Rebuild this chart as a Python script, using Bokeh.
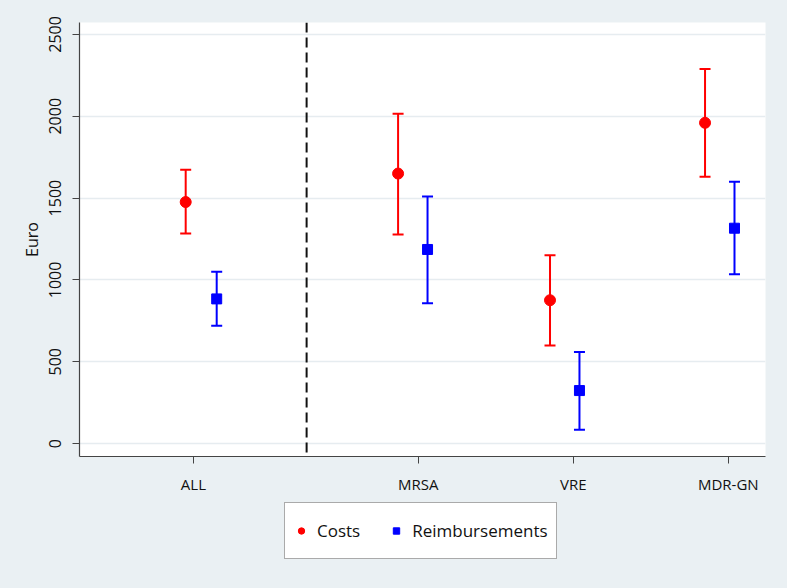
from bokeh.plotting import figure
from bokeh.models import ColumnDataSource, Whisker, TeeHead, Span, FixedTicker, Legend, LegendItem, Range1d
from bokeh.layouts import column
from bokeh.embed import file_html
from bokeh.resources import INLINE

# ---- data ----
groups = ["ALL", "MRSA", "VRE", "MDR-GN"]
group_pos = [1.0, 2.45, 3.45, 4.45]
cost_offset = [-0.05, -0.13, -0.15, -0.15]
reimb_offset = [0.15, 0.06, 0.04, 0.04]

costs = [1476, 1650, 876, 1960]
costs_lo = [1283, 1277, 600, 1630]
costs_hi = [1673, 2015, 1150, 2289]

reimb = [884, 1186, 324, 1316]
reimb_lo = [720, 858, 85, 1034]
reimb_hi = [1050, 1510, 560, 1600]

y_ticks = [0, 500, 1000, 1500, 2000, 2500]
divider_pos = 1.73

RED = "#ff0000"
BLUE = "#0000ff"
BG = "#eaf0f3"
FONT = "Open Sans"

src_c = ColumnDataSource(dict(x=[p + o for p, o in zip(group_pos, cost_offset)],
                              y=costs, lo=costs_lo, hi=costs_hi))
src_r = ColumnDataSource(dict(x=[p + o for p, o in zip(group_pos, reimb_offset)],
                              y=reimb, lo=reimb_lo, hi=reimb_hi))

p = figure(width=787, height=496, output_backend="svg", toolbar_location=None,
           x_range=Range1d(0.265, 4.69), y_range=Range1d(-79, 2573))
p.min_border_left = 79
p.min_border_right = 22
p.min_border_top = 22
p.min_border_bottom = 38
p.background_fill_color = "white"
p.border_fill_color = BG
p.outline_line_color = None

p.xgrid.visible = False
p.ygrid.grid_line_color = "#e6ecf0"
p.ygrid.grid_line_width = 1.5
p.yaxis.ticker = FixedTicker(ticks=y_ticks)
p.xaxis.ticker = FixedTicker(ticks=group_pos)
p.xaxis.major_label_overrides = {gp: g for gp, g in zip(group_pos, groups)}

for ax in (p.xaxis[0], p.yaxis[0]):
    ax.axis_line_color = "#444444"
    ax.axis_line_width = 1.2
    ax.major_tick_line_color = "#444444"
    ax.major_tick_out = 7
    ax.major_tick_in = 0
    ax.minor_tick_line_color = None
    ax.major_label_text_font = FONT
    ax.major_label_text_color = "#111111"

p.xaxis.major_label_text_font_size = "15px"
p.yaxis.major_label_text_font_size = "16px"
p.yaxis.major_label_orientation = "vertical"
p.yaxis.major_label_standoff = 11
p.yaxis.axis_label = "Euro"
p.yaxis.axis_label_text_font = FONT
p.yaxis.axis_label_text_font_style = "normal"
p.yaxis.axis_label_text_font_size = "16px"
p.yaxis.axis_label_text_color = "#111111"
p.yaxis.axis_label_standoff = 4
p.xaxis.major_label_standoff = 10

p.add_layout(Span(location=divider_pos, dimension="height", line_color="#111111",
                  line_width=2, line_dash="10 5"))

for src, col in ((src_c, RED), (src_r, BLUE)):
    w = Whisker(source=src, base="x", upper="hi", lower="lo", dimension="height",
                line_color=col, line_width=2,
                upper_head=TeeHead(size=11, line_color=col, line_width=2),
                lower_head=TeeHead(size=11, line_color=col, line_width=2))
    p.add_layout(w)

p.scatter("x", "y", source=src_c, marker="circle", size=11, fill_color=RED, line_color=RED)
p.scatter("x", "y", source=src_r, marker="square", size=10, fill_color=BLUE, line_color=BLUE)

# ---- legend strip below the plot ----
lg = figure(width=787, height=92, output_backend="svg", toolbar_location=None,
            x_range=Range1d(0, 1), y_range=Range1d(0, 1))
lg.min_border_left = 79
lg.min_border_right = 22
lg.min_border_top = 0
lg.min_border_bottom = 0
lg.axis.visible = False
lg.grid.visible = False
lg.outline_line_color = None
lg.background_fill_color = BG
lg.border_fill_color = BG

lc = lg.scatter(x=[-5], y=[-5], marker="circle", size=11, fill_color=RED, line_color=RED)
lr = lg.scatter(x=[-5], y=[-5], marker="square", size=10, fill_color=BLUE, line_color=BLUE)

legend = Legend(items=[LegendItem(label="Costs", renderers=[lc]),
                       LegendItem(label="Reimbursements", renderers=[lr])],
                orientation="horizontal", location=(205, 29))
legend.padding = 8
legend.margin = 0
legend.glyph_width = 16
legend.glyph_height = 39
legend.label_height = 39
legend.label_standoff = 8
legend.spacing = 28
legend.label_text_font = FONT
legend.label_text_font_size = "17px"
legend.label_text_color = "#111111"
legend.border_line_color = "#555555"
legend.border_line_width = 1.2
legend.background_fill_color = "white"
legend.background_fill_alpha = 1.0
lg.add_layout(legend, "center")

layout = column(p, lg, spacing=0, styles={"background-color": BG})
open("out.html", "w").write(file_html(layout, INLINE))
